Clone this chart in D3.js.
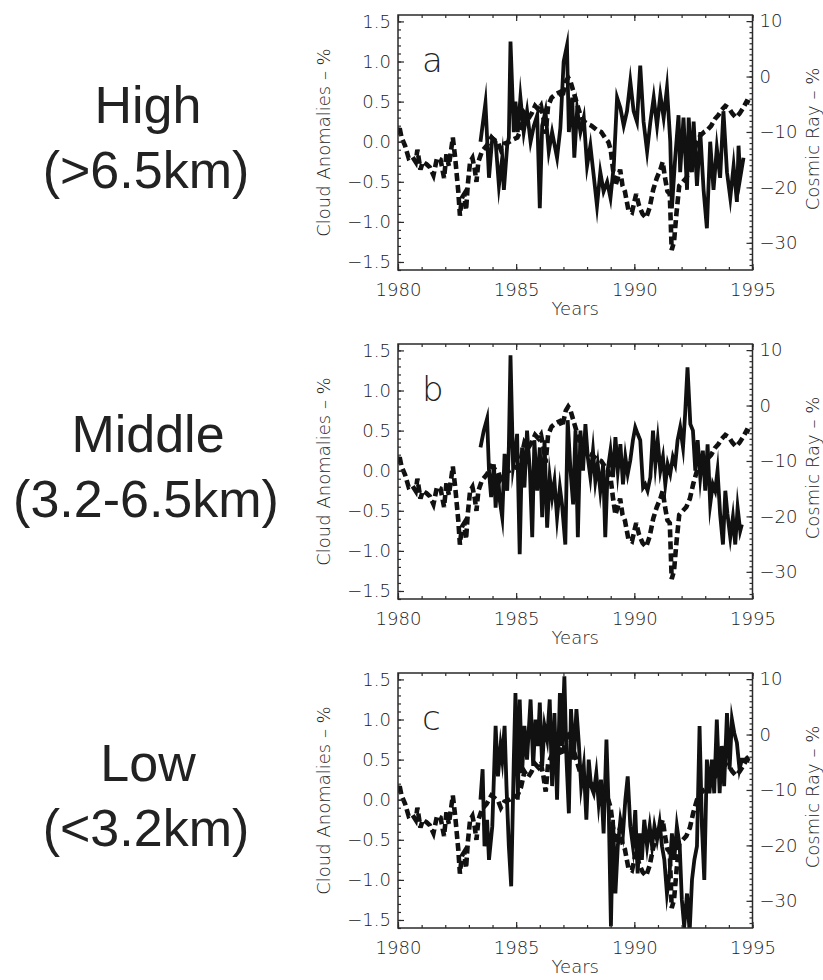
<!DOCTYPE html>
<html>
<head>
<meta charset="utf-8">
<script src="https://cdn.jsdelivr.net/npm/d3@7"></script>
<style>
  html, body { margin: 0; padding: 0; background: #fff; }
  svg { display: block; }
  text { fill: #222; }
</style>
</head>
<body>
<svg id="chart" width="823" height="980"></svg>
<script>
// ---------------- data ----------------
const xTickYears = [1980, 1985, 1990, 1995];
const leftTicks = [-1.5, -1.0, -0.5, 0.0, 0.5, 1.0, 1.5];
const rightTicks = [-30, -20, -10, 0, 10];
const panelLetters = ["a", "b", "c"];
const regionNames = ["High", "Middle", "Low"];
const regionRanges = ["(>6.5km)", "(3.2-6.5km)", "(<3.2km)"];
const leftTitle = "Cloud Anomalies \u2013 %";
const rightTitle = "Cosmic Ray \u2013 %";
const xTitle = "Years";

// Cosmic ray (right axis, %)
const crYears = [1980.00,1980.05,1980.15,1980.30,1980.45,1980.60,1980.75,1980.82,1980.95,1981.05,1981.20,1981.35,1981.50,1981.65,1981.80,1981.95,1982.05,1982.15,1982.25,1982.32,1982.42,1982.55,1982.62,1982.70,1982.80,1982.88,1982.95,1983.05,1983.15,1983.25,1983.32,1983.40,1983.55,1983.75,1983.95,1984.10,1984.25,1984.35,1984.50,1984.70,1984.90,1985.05,1985.20,1985.35,1985.50,1985.65,1985.80,1985.95,1986.05,1986.15,1986.25,1986.35,1986.50,1986.70,1986.85,1986.95,1987.10,1987.20,1987.30,1987.45,1987.60,1987.75,1987.90,1988.05,1988.20,1988.40,1988.60,1988.75,1988.90,1989.00,1989.10,1989.20,1989.30,1989.40,1989.50,1989.60,1989.75,1989.90,1990.00,1990.08,1990.20,1990.35,1990.50,1990.65,1990.80,1990.95,1991.10,1991.20,1991.30,1991.40,1991.50,1991.58,1991.68,1991.78,1991.90,1992.05,1992.20,1992.35,1992.50,1992.65,1992.80,1992.95,1993.10,1993.25,1993.40,1993.55,1993.70,1993.85,1994.00,1994.15,1994.30,1994.45,1994.60,1994.75,1994.90,1995.00];
const crValues = [-10.6,-8.9,-11.0,-12.5,-14.7,-14.4,-15.4,-13.2,-16.8,-15.4,-15.8,-16.4,-17.8,-14.7,-15.0,-18.3,-14.0,-16.1,-13.2,-11.0,-14.7,-20.7,-25.1,-21.9,-21.2,-24.1,-19.7,-15.4,-14.7,-16.8,-19.0,-15.4,-13.5,-12.5,-11.0,-11.5,-12.1,-13.2,-12.1,-11.8,-11.3,-11.0,-9.6,-6.7,-7.7,-6.7,-5.3,-6.0,-5.3,-7.4,-10.3,-5.3,-3.8,-3.1,-2.8,-3.8,-0.9,-0.2,-0.9,-3.1,-5.3,-7.4,-8.2,-8.6,-8.9,-9.6,-10.0,-11.0,-11.8,-13.2,-16.8,-19.7,-18.3,-16.8,-19.7,-20.7,-24.1,-24.5,-22.6,-21.2,-23.3,-24.8,-25.5,-23.6,-20.4,-18.3,-16.8,-15.4,-18.3,-20.7,-21.2,-31.3,-29.8,-24.8,-19.7,-19.0,-18.3,-16.8,-14.0,-11.8,-10.6,-10.0,-9.6,-8.9,-7.7,-7.0,-6.0,-5.3,-5.7,-6.7,-7.4,-6.7,-5.7,-4.5,-4.8,-4.5];

// High cloud anomalies (left axis, %)
const highYears = [1983.49,1983.70,1983.85,1983.99,1984.13,1984.27,1984.41,1984.48,1984.62,1984.69,1984.76,1984.90,1984.97,1985.07,1985.18,1985.32,1985.46,1985.61,1985.75,1985.89,1986.00,1986.10,1986.24,1986.38,1986.52,1986.73,1986.87,1987.01,1987.15,1987.23,1987.37,1987.46,1987.58,1987.72,1987.86,1988.00,1988.14,1988.28,1988.42,1988.56,1988.70,1988.85,1988.99,1989.13,1989.27,1989.41,1989.55,1989.69,1989.83,1989.97,1990.11,1990.25,1990.39,1990.54,1990.68,1990.82,1990.96,1991.10,1991.24,1991.38,1991.52,1991.59,1991.73,1991.87,1991.94,1992.08,1992.23,1992.30,1992.44,1992.51,1992.65,1992.79,1992.93,1993.07,1993.21,1993.35,1993.49,1993.63,1993.77,1993.92,1994.06,1994.20,1994.34,1994.41,1994.48,1994.62];
const highValues = [0.0,0.48,-0.45,0.05,0.0,-0.55,-0.2,-0.6,-0.05,0.05,1.25,0.12,0.5,0.12,0.55,0.12,0.38,0.0,0.2,0.33,-0.83,0.2,0.38,-0.12,0.12,-0.2,0.17,1.0,1.2,0.12,0.55,-0.2,0.4,0.12,0.3,-0.3,-0.05,-0.42,-0.8,-0.38,-0.62,-0.5,-0.7,-0.3,0.55,0.42,0.2,0.38,0.75,0.38,0.25,0.95,0.25,-0.12,0.25,0.55,0.2,0.58,0.3,0.67,0.0,-0.83,-0.2,0.33,-0.38,0.3,-0.6,0.3,-0.38,0.25,-0.55,0.12,-0.6,-1.08,0.0,-0.6,-0.08,-0.45,0.38,-0.38,-0.7,-0.3,-0.75,-0.05,-0.45,-0.2];

// Middle cloud anomalies (left axis, %)
const midYears = [1983.49,1983.63,1983.77,1983.85,1983.94,1984.06,1984.13,1984.23,1984.31,1984.41,1984.51,1984.62,1984.69,1984.76,1984.87,1984.97,1985.04,1985.15,1985.25,1985.35,1985.46,1985.58,1985.68,1985.77,1985.89,1986.00,1986.10,1986.20,1986.31,1986.42,1986.52,1986.62,1986.73,1986.85,1986.94,1987.08,1987.18,1987.30,1987.41,1987.51,1987.61,1987.72,1987.83,1987.93,1988.03,1988.14,1988.25,1988.35,1988.45,1988.56,1988.68,1988.77,1988.87,1988.99,1989.10,1989.20,1989.30,1989.41,1989.52,1989.62,1989.72,1989.83,1989.94,1990.04,1990.14,1990.25,1990.37,1990.46,1990.56,1990.68,1990.79,1990.89,1990.99,1991.10,1991.21,1991.31,1991.41,1991.52,1991.63,1991.73,1991.83,1991.94,1992.06,1992.15,1992.25,1992.37,1992.48,1992.58,1992.68,1992.79,1992.90,1993.00,1993.10,1993.21,1993.32,1993.42,1993.52,1993.63,1993.75,1993.85,1993.94,1994.06,1994.17,1994.27,1994.37,1994.48,1994.55];
const midValues = [0.29,0.5,0.65,0.0,-0.33,0.08,-0.46,-0.04,-0.38,-0.58,0.21,-0.25,0.29,1.44,0.05,0.25,0.46,-1.04,0.29,-0.21,0.5,0.0,-0.83,0.38,-0.25,0.29,-0.58,0.38,-0.71,-0.08,-0.33,-0.13,-0.58,-0.21,-0.42,-0.92,0.63,0.0,-0.42,0.5,-0.83,0.5,0.0,0.58,0.17,-0.08,0.25,-0.13,0.08,-0.25,0.08,-0.83,0.0,0.25,-0.08,0.42,0.0,0.33,-0.17,0.17,-0.04,0.13,0.38,0.54,0.46,0.38,-0.21,-0.17,-0.25,-0.08,0.5,0.08,0.38,0.0,0.17,-0.17,0.08,-0.04,0.17,0.08,0.38,0.54,0.29,0.71,1.29,0.58,0.5,0.0,0.38,-0.08,0.25,-0.25,0.33,-0.42,-0.17,-0.25,0.0,-0.54,-0.92,-0.25,-0.54,-0.83,-0.58,-0.92,-0.46,-0.75,-0.67];

// Low cloud anomalies (left axis, %)
const lowYears = [1983.49,1983.58,1983.66,1983.77,1983.85,1983.99,1984.13,1984.23,1984.34,1984.41,1984.51,1984.59,1984.69,1984.79,1984.90,1984.97,1985.07,1985.15,1985.25,1985.35,1985.46,1985.61,1985.72,1985.82,1985.92,1986.00,1986.10,1986.20,1986.31,1986.42,1986.52,1986.62,1986.73,1986.85,1986.94,1987.04,1987.13,1987.23,1987.32,1987.44,1987.55,1987.65,1987.75,1987.86,1987.97,1988.07,1988.17,1988.28,1988.39,1988.49,1988.59,1988.70,1988.82,1988.92,1989.01,1989.10,1989.20,1989.30,1989.41,1989.52,1989.62,1989.72,1989.83,1989.94,1990.04,1990.14,1990.23,1990.32,1990.42,1990.54,1990.65,1990.75,1990.85,1990.96,1991.07,1991.17,1991.27,1991.38,1991.49,1991.59,1991.69,1991.80,1991.92,1992.01,1992.11,1992.23,1992.34,1992.44,1992.54,1992.65,1992.76,1992.86,1992.96,1993.07,1993.18,1993.28,1993.38,1993.49,1993.61,1993.70,1993.80,1993.92,1994.03,1994.13,1994.23,1994.34,1994.45,1994.55,1994.69,1994.83];
const lowValues = [0.0,0.38,-0.58,-0.25,-0.75,-0.33,0.92,0.29,0.67,0.5,0.92,0.17,-0.58,-1.08,0.5,1.33,0.0,1.25,0.33,0.92,0.5,1.25,0.42,1.0,0.67,1.21,0.42,0.92,0.75,1.25,0.17,1.08,0.0,1.33,0.67,1.54,0.5,-0.17,1.13,0.5,1.13,0.71,0.17,0.42,-0.25,0.5,0.17,0.08,0.33,-0.04,0.25,-0.42,0.75,-0.17,-1.58,-0.25,-1.17,-0.58,-0.25,-0.42,0.0,0.29,-0.33,-0.58,-0.13,-0.92,-0.42,-0.75,-0.25,-0.58,-0.33,-0.58,-0.33,-0.5,-0.29,-0.58,-0.75,-1.17,-0.92,-0.42,-0.75,-0.33,-0.58,-1.25,-1.58,-1.17,-1.65,-1.0,-0.75,-0.58,0.92,-0.33,-1.0,0.5,0.08,0.5,0.08,1.0,0.08,0.67,0.17,1.08,0.38,1.0,0.83,0.71,0.38,0.5,0.5,0.54];

const cloudSeries = [
  {years: highYears, values: highValues},
  {years: midYears, values: midValues},
  {years: lowYears, values: lowValues}
];

// ---------------- layout ----------------
const svg = d3.select("#chart");
const X0 = 398, X1 = 752.5;
const panelTops = [15, 344, 673];
const PH = 255;
const tickFont = "'DejaVu Sans', sans-serif";
const axisColor = "#2a2a2a";

const x = d3.scaleLinear().domain([1980, 1995]).range([X0, X1]);
const minorYears = d3.range(1980, 1996, 1);
const minorLeft = d3.range(-16, 16, 1).map(d => d / 10);
const minorRight = d3.range(-34, 11, 1);

const fmtLeft = d3.format(".1f");

function styleAxis(g) {
  g.select(".domain").remove();
  g.selectAll(".tick line").attr("stroke", axisColor).attr("stroke-width", 1.2);
  g.selectAll(".tick text")
    .attr("font-family", tickFont).attr("font-size", 18).attr("font-weight", 200)
    .attr("fill", "#222");
}

panelTops.forEach((top, i) => {
  const bottom = top + PH;
  const yL = d3.scaleLinear().domain([-1.6, 1.58]).range([bottom, top]);
  const yR = d3.scaleLinear().domain([-34.9, 11.1]).range([bottom, top]);
  const g = svg.append("g");

  const clipId = "clip" + i;
  svg.append("clipPath").attr("id", clipId)
    .append("rect").attr("x", X0).attr("y", top).attr("width", X1 - X0).attr("height", PH);

  const plot = g.append("g").attr("clip-path", `url(#${clipId})`);

  // cloud solid line
  const cs = cloudSeries[i];
  const cData = cs.years.map((yr, k) => [yr, cs.values[k]]);
  plot.append("path")
    .datum(cData)
    .attr("fill", "none")
    .attr("stroke", "#111")
    .attr("stroke-width", 3.8)
    .attr("stroke-linejoin", "miter")
    .attr("stroke-miterlimit", 12)
    .attr("d", d3.line().x(d => x(d[0])).y(d => yL(d[1])));

  // cosmic ray dashed line
  const crData = crYears.map((yr, k) => [yr, crValues[k]]);
  plot.append("path")
    .datum(crData)
    .attr("fill", "none")
    .attr("stroke", "#111")
    .attr("stroke-width", 4.6)
    .attr("stroke-dasharray", "8,4")
    .attr("stroke-linejoin", "miter")
    .attr("stroke-miterlimit", 4)
    .attr("d", d3.line().x(d => x(d[0])).y(d => yR(d[1])));

  // minor ticks
  g.append("g").attr("transform", `translate(0,${bottom})`)
    .call(d3.axisBottom(x).tickValues(minorYears).tickSizeInner(-3).tickSizeOuter(0).tickFormat(""))
    .call(styleAxis);
  g.append("g").attr("transform", `translate(0,${top})`)
    .call(d3.axisTop(x).tickValues(minorYears).tickSizeInner(-3).tickSizeOuter(0).tickFormat(""))
    .call(styleAxis);
  g.append("g").attr("transform", `translate(${X0},0)`)
    .call(d3.axisLeft(yL).tickValues(minorLeft).tickSizeInner(-3).tickSizeOuter(0).tickFormat(""))
    .call(styleAxis);
  g.append("g").attr("transform", `translate(${X1},0)`)
    .call(d3.axisRight(yR).tickValues(minorRight).tickSizeInner(-3).tickSizeOuter(0).tickFormat(""))
    .call(styleAxis);

  // major ticks + labels
  g.append("g").attr("transform", `translate(0,${bottom})`)
    .call(d3.axisBottom(x).tickValues(xTickYears).tickSizeInner(-6).tickSizeOuter(0).tickPadding(13).tickFormat(d3.format("d")))
    .call(styleAxis);
  g.append("g").attr("transform", `translate(0,${top})`)
    .call(d3.axisTop(x).tickValues(xTickYears).tickSizeInner(-6).tickSizeOuter(0).tickFormat(""))
    .call(styleAxis);
  g.append("g").attr("transform", `translate(${X0},0)`)
    .call(d3.axisLeft(yL).tickValues(leftTicks).tickSizeInner(-6).tickSizeOuter(0).tickPadding(7).tickFormat(fmtLeft))
    .call(styleAxis);
  g.append("g").attr("transform", `translate(${X1},0)`)
    .call(d3.axisRight(yR).tickValues(rightTicks).tickSizeInner(-6).tickSizeOuter(0).tickPadding(7).tickFormat(d3.format("d")))
    .call(styleAxis);

  // frame
  g.append("rect")
    .attr("x", X0).attr("y", top).attr("width", X1 - X0).attr("height", PH)
    .attr("fill", "none").attr("stroke", axisColor).attr("stroke-width", 1.5);

  // panel letter
  g.append("text")
    .attr("x", 422).attr("y", top + 57)
    .attr("font-family", tickFont).attr("font-size", 34).attr("font-weight", 200)
    .text(panelLetters[i]);

  // axis titles
  g.append("text")
    .attr("transform", `translate(${330},${top + PH / 2}) rotate(-90)`)
    .attr("text-anchor", "middle")
    .attr("font-family", tickFont).attr("font-size", 18).attr("font-weight", 200)
    .text(leftTitle);
  g.append("text")
    .attr("transform", `translate(${819},${top + 124}) rotate(-90)`)
    .attr("text-anchor", "middle")
    .attr("font-family", tickFont).attr("font-size", 18).attr("font-weight", 200)
    .text(rightTitle);
  g.append("text")
    .attr("x", (X0 + X1) / 2).attr("y", bottom + 45)
    .attr("text-anchor", "middle")
    .attr("font-family", tickFont).attr("font-size", 18).attr("font-weight", 200)
    .text(xTitle);

  // region labels
  g.append("text")
    .attr("x", 148).attr("y", top + 108)
    .attr("text-anchor", "middle")
    .attr("font-family", "'Liberation Sans', Arial, sans-serif").attr("font-size", 52)
    .text(regionNames[i]);
  g.append("text")
    .attr("x", 146).attr("y", top + 173)
    .attr("text-anchor", "middle")
    .attr("font-family", "'Liberation Sans', Arial, sans-serif").attr("font-size", 52)
    .text(regionRanges[i]);
});
</script>
</body>
</html>
